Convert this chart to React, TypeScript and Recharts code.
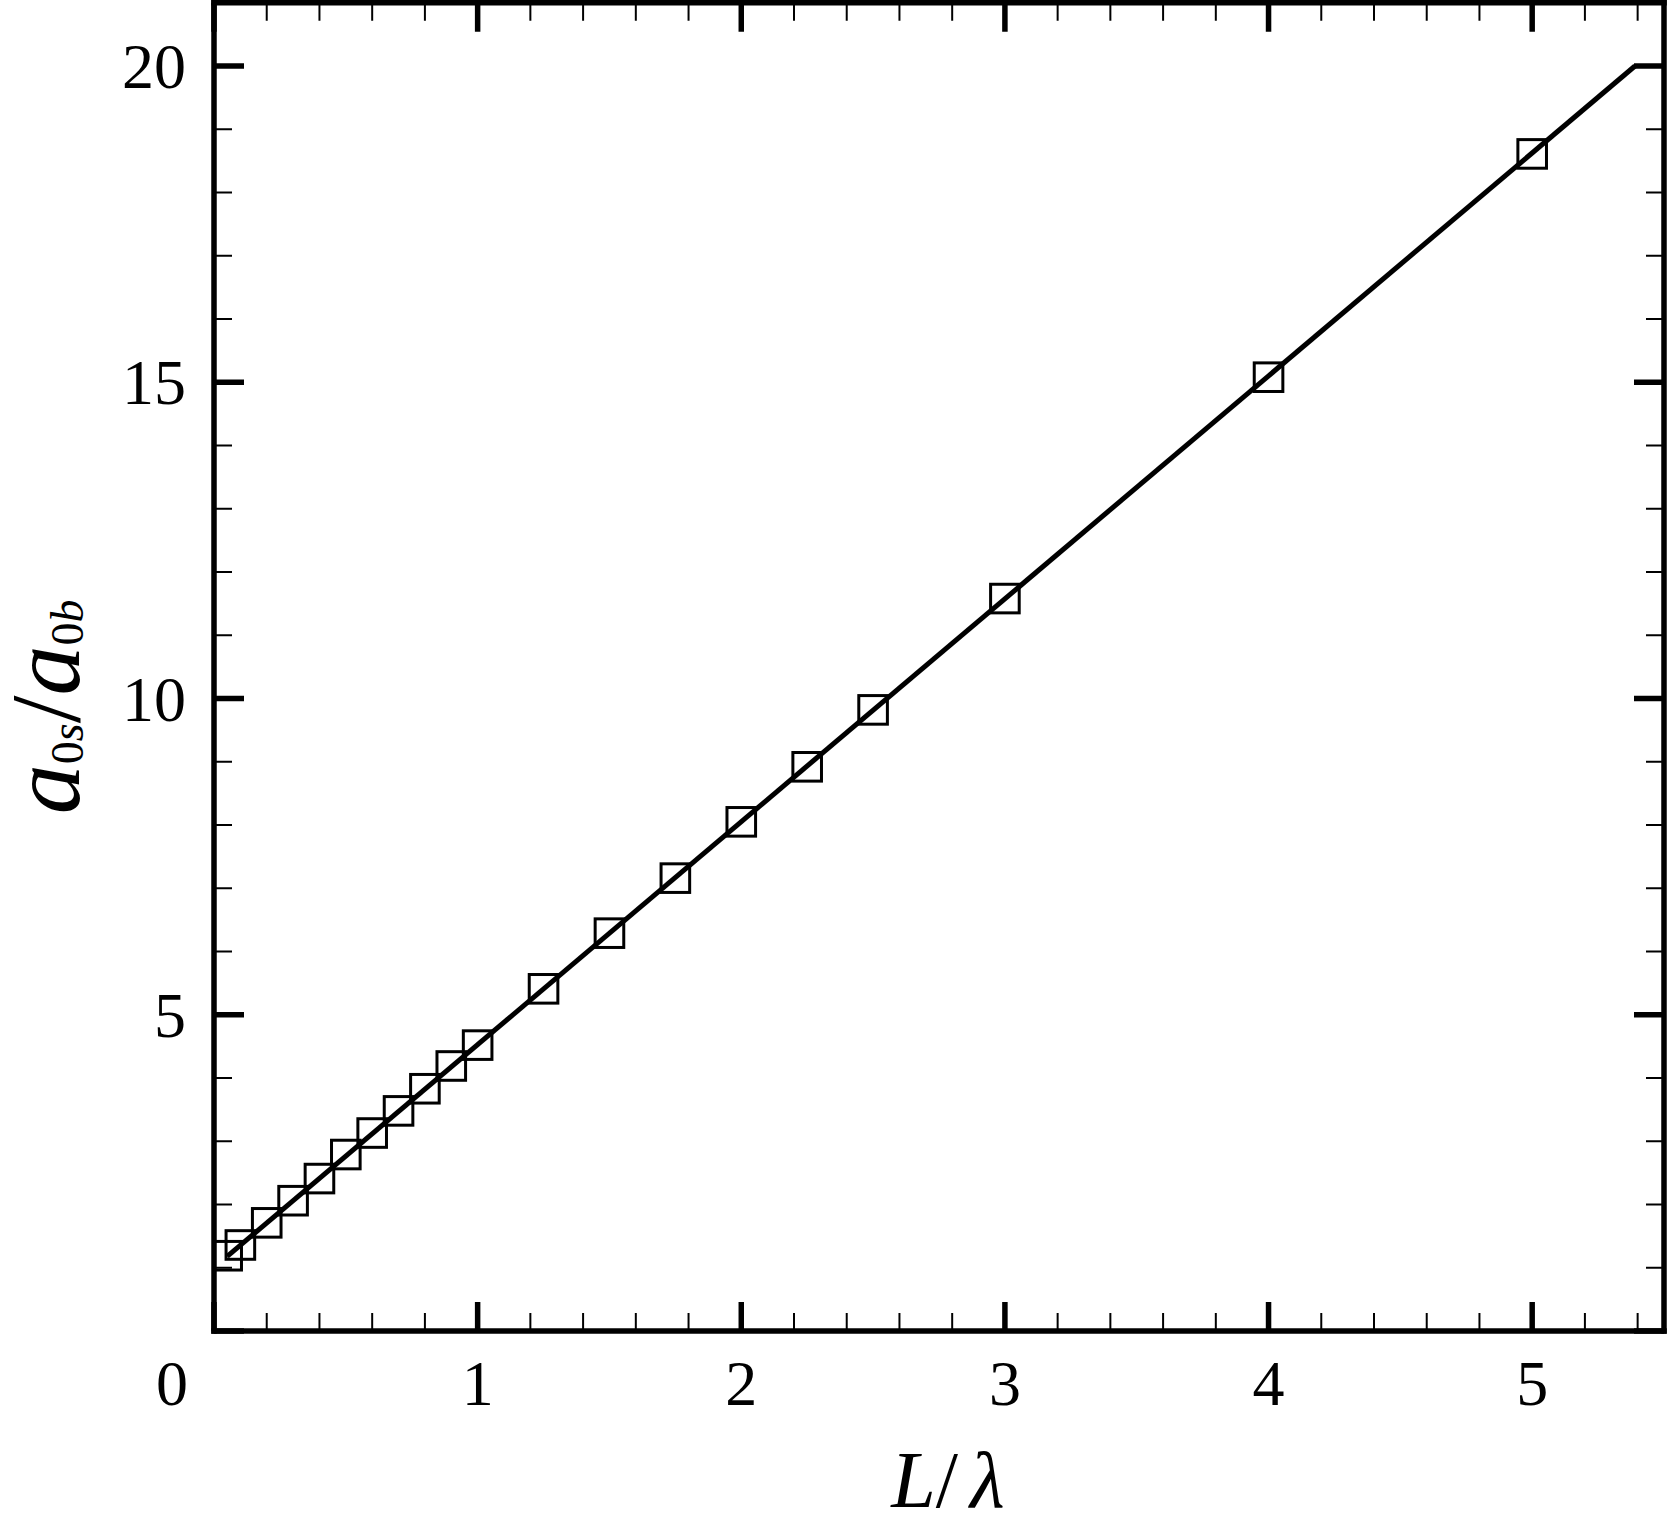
import { ComposedChart, Line, Scatter, XAxis, YAxis, Label } from "recharts";

// L/lambda sample positions and the measured ratio a0s/a0b
const lengthRatio = [0.05, 0.1, 0.2, 0.3, 0.4, 0.5, 0.6, 0.7, 0.8, 0.9, 1.0, 1.25, 1.5, 1.75, 2.0, 2.25, 2.5, 3.0, 4.0, 5.0];
const ampRatio = [1.19, 1.36, 1.71, 2.06, 2.41, 2.79, 3.13, 3.48, 3.83, 4.19, 4.52, 5.41, 6.29, 7.16, 8.05, 8.92, 9.82, 11.58, 15.08, 18.61];

// straight fit line end points
const fitX = [0.05, 5.39];
const fitY = [1.18, 20.0];

const xTicks = Array.from({ length: 28 }, (_, i) => Math.round(i * 2) / 10);
const yTicks = Array.from({ length: 22 }, (_, i) => i);

const points = lengthRatio.map((x, i) => ({ x, y: ampRatio[i] }));
const fitLine = fitX.map((x, i) => ({ x, y: fitY[i] }));

const FONT = "'Liberation Serif', 'Times New Roman', serif";
const isMajorX = (v: number) => Math.abs(v - Math.round(v)) < 1e-6;
const isMajorY = (v: number) => v % 5 === 0;

const BottomTick = ({ x, y, payload }: any) => {
  const v = payload.value;
  const major = isMajorX(v);
  return (
    <g>
      <line x1={x} x2={x} y1={y} y2={y - (major ? 29 : 18)} stroke="#000" strokeWidth={major ? 5.5 : 2} />
      {major && (
        <text x={v === 0 ? x - 42 : x} y={y + 74} textAnchor="middle" fontSize={64} fontFamily={FONT} fill="#000">
          {v}
        </text>
      )}
    </g>
  );
};

const TopTick = ({ x, y, payload }: any) => {
  const major = isMajorX(payload.value);
  return <line x1={x} x2={x} y1={y} y2={y + (major ? 29 : 18)} stroke="#000" strokeWidth={major ? 5.5 : 2} />;
};

const LeftTick = ({ x, y, payload }: any) => {
  const v = payload.value;
  const major = isMajorY(v);
  return (
    <g>
      <line x1={x} x2={x + (major ? 30 : 18)} y1={y} y2={y} stroke="#000" strokeWidth={major ? 5.5 : 2} />
      {major && v !== 0 && (
        <text x={x - 28} y={y + 22} textAnchor="end" fontSize={64} fontFamily={FONT} fill="#000">
          {v}
        </text>
      )}
    </g>
  );
};

const RightTick = ({ x, y, payload }: any) => {
  const major = isMajorY(payload.value);
  return <line x1={x} x2={x - (major ? 30 : 18)} y1={y} y2={y} stroke="#000" strokeWidth={major ? 5.5 : 2} />;
};

const SquareMarker = ({ cx, cy }: any) => (
  <rect x={cx - 14.3} y={cy - 14.3} width={28.6} height={28.6} fill="none" stroke="#000" strokeWidth={3} />
);

const XTitle = ({ viewBox }: any) => {
  const cx = viewBox.x + viewBox.width / 2 + 9;
  const by = viewBox.y + 176;
  return (
    <text x={cx} y={by} textAnchor="middle" fontFamily={FONT} fontSize={80} fill="#000">
      <tspan fontStyle="italic">L</tspan>
      <tspan>/</tspan>
      <tspan fontStyle="italic" dx={12}>λ</tspan>
    </text>
  );
};

const YTitle = ({ viewBox }: any) => {
  const bx = viewBox.x + 79;
  const cy = viewBox.y + viewBox.height / 2 + 40;
  return (
    <text x={bx} y={cy} transform={`rotate(-90, ${bx}, ${cy})`} textAnchor="middle" fontFamily={FONT} fontSize={100} fill="#000">
      <tspan fontStyle="italic">a</tspan>
      <tspan fontSize={46} dy={4}>0</tspan>
      <tspan fontSize={46} fontStyle="italic">s</tspan>
      <tspan dy={-4}>/</tspan>
      <tspan fontStyle="italic">a</tspan>
      <tspan fontSize={46} dy={4}>0</tspan>
      <tspan fontSize={46} fontStyle="italic">b</tspan>
    </text>
  );
};

const axisStyle = { stroke: "#000", strokeWidth: 5.5, strokeLinecap: "square" as const };

export default function App() {
  return (
    <div style={{ position: "absolute", left: 0, top: 0, background: "#fff" }}>
      <ComposedChart width={1667} height={1531} margin={{ top: 0, right: 0, bottom: 0, left: 0 }}>
        <XAxis
          xAxisId="bottom"
          type="number"
          dataKey="x"
          domain={[0, 5.5]}
          allowDataOverflow
          ticks={xTicks}
          interval={0}
          height={200}
          tickSize={0}
          tickMargin={0}
          tickLine={false}
          axisLine={axisStyle}
          tick={<BottomTick />}
        >
          <Label content={<XTitle />} />
        </XAxis>
        <XAxis
          xAxisId="top"
          orientation="top"
          type="number"
          dataKey="x"
          domain={[0, 5.5]}
          allowDataOverflow
          ticks={xTicks}
          interval={0}
          height={2.75}
          tickSize={0}
          tickMargin={0}
          tickLine={false}
          axisLine={axisStyle}
          tick={<TopTick />}
        />
        <YAxis
          yAxisId="left"
          type="number"
          dataKey="y"
          domain={[0, 21]}
          allowDataOverflow
          ticks={yTicks}
          interval={0}
          width={214}
          tickSize={0}
          tickMargin={0}
          tickLine={false}
          axisLine={axisStyle}
          tick={<LeftTick />}
        >
          <Label content={<YTitle />} />
        </YAxis>
        <YAxis
          yAxisId="right"
          orientation="right"
          type="number"
          dataKey="y"
          domain={[0, 21]}
          allowDataOverflow
          ticks={yTicks}
          interval={0}
          width={3}
          tickSize={0}
          tickMargin={0}
          tickLine={false}
          axisLine={axisStyle}
          tick={<RightTick />}
        />
        <Line
          xAxisId="bottom"
          yAxisId="left"
          data={fitLine}
          dataKey="y"
          type="linear"
          stroke="#000"
          strokeWidth={5}
          dot={false}
          activeDot={false}
          isAnimationActive={false}
        />
        <Scatter
          xAxisId="bottom"
          yAxisId="left"
          data={points}
          dataKey="y"
          shape={<SquareMarker />}
          isAnimationActive={false}
        />
      </ComposedChart>
    </div>
  );
}
